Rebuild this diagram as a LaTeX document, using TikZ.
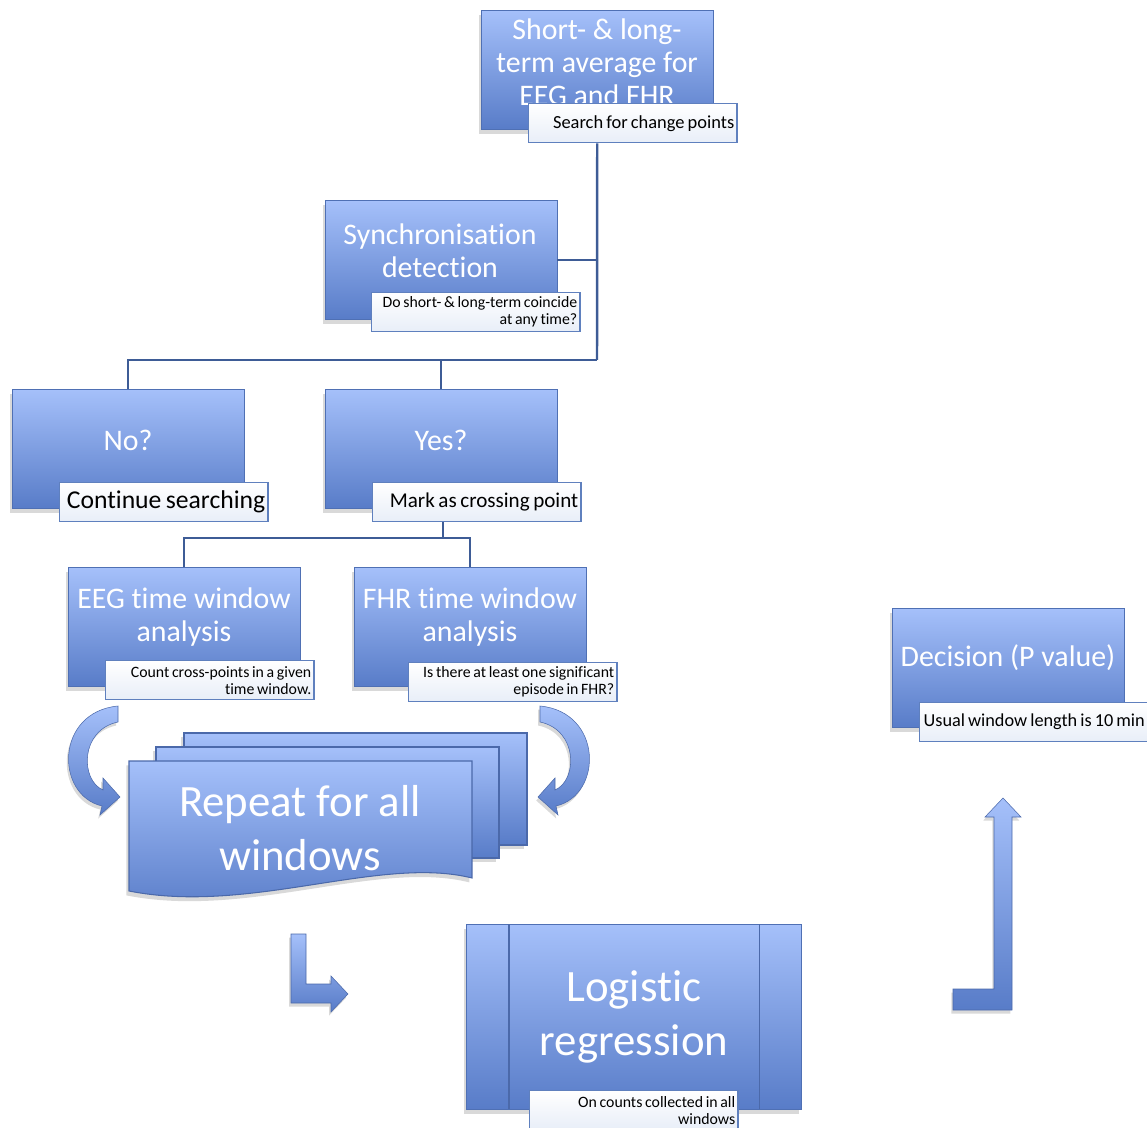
\documentclass[tikz,border=0pt]{standalone}
\usepackage{fontspec}
\setmainfont{Carlito}[Ligatures=NoCommon]
\usetikzlibrary{shadows,calc,positioning}

\definecolor{boxtop}{RGB}{165,192,250}
\definecolor{boxbot}{RGB}{88,124,200}
\definecolor{linkblue}{RGB}{62,92,150}
\definecolor{notebord}{RGB}{95,128,190}
\definecolor{notebot}{RGB}{232,238,248}

\tikzset{
  phase/.style={anchor=north west, inner sep=0pt, minimum width=4.64cm, minimum height=2.38cm,
    top color=boxtop, bottom color=boxbot, draw=boxbot!90!black, line width=0.3pt,
    drop shadow={shadow xshift=-1.5pt, shadow yshift=-2.5pt, opacity=.3}},
  phasetext/.style={text=white, align=center, font=\fontsize{17}{18.7}\selectfont},
  bigtext/.style={text=white, align=center, font=\fontsize{25.5}{30.6}\selectfont},
  note/.style={anchor=north west, draw=notebord, line width=0.8pt, top color=white, bottom color=notebot,
    inner xsep=1.5pt, inner ysep=0pt, minimum height=0.78cm, text width=4.06cm, align=flush right,
    font=\fontsize{9}{9.6}\selectfont,
    execute at begin node={\spaceskip=0.17em\relax\hyphenpenalty=10000\relax}},
  link/.style={draw=linkblue, line width=1.4pt},
  docpage/.style={top color=boxtop, bottom color=boxbot, draw=boxbot!85!black, line width=0.6pt,
    drop shadow={shadow xshift=-1.5pt, shadow yshift=-2.5pt, opacity=.3}},
  blockarrow/.style={top color=boxtop, bottom color=boxbot, draw=boxbot!85!black, line width=0.3pt,
    drop shadow={shadow xshift=-1pt, shadow yshift=-2pt, opacity=.3}}
}

\begin{document}
\begin{tikzpicture}[x=0.02cm, y=-0.02cm]
\useasboundingbox (0,0) rectangle (1147,1128);

% main boxes
\node[phase] (avg) at (481,10) {};
\node[phase] (sync) at (325,200) {};
\node[phase] (no) at (12,389) {};
\node[phase] (yes) at (325,389) {};
\node[phase] (eeg) at (68,567) {};
\node[phase] (fhr) at (354,567) {};
\node[phase] (dec) at (892,608) {};

\node[phasetext] (avgtext) at (597,62) {Short- \& long-\\term average for\\EEG and FHR};
\node[phasetext] (synctext) at (440,251) {Synchronisation\\detection};
\node[phasetext] (notext) at (128,440) {No?};
\node[phasetext] (yestext) at (441,440) {Yes?};
\node[phasetext] (eegtext) at (184,617) {EEG time window\\analysis};
\node[phasetext] (fhrtext) at (470,617) {FHR time window\\analysis};
\node[phasetext] (dectext) at (1008,658) {Decision (P value)};

% notes
\node[note, font=\fontsize{10.5}{11}\selectfont] (avgnote) at (528,103) {Search for change points};
\node[note] (syncnote) at (371,292) {Do short- \& long-term coincide\\at any time?};
\node[note, font=\fontsize{14.6}{15}\selectfont] (nonote) at (59,482) {Continue searching};
\node[note, font=\fontsize{12}{12.5}\selectfont] (yesnote) at (372,482) {Mark as crossing point};
\node[note] (eegnote) at (105,660) {Count cross-points in a given\\time window.};
\node[note] (fhrnote) at (408,662) {Is there at least one significant\\episode in FHR?};
\node[note, text width=4.45cm, font=\fontsize{10.4}{11}\selectfont] (decnote) at (919,702) {Usual window length is 10\,min};

% connectors
\coordinate (split1) at (597,360);
\draw[link] (avg.south |- avgnote.south) -- (split1);
\draw[link] (sync.east) -- (sync.east -| split1);
\draw[link] (no.north) -- (no.north |- split1) -- (split1);
\draw[link] (yes.north) -- (yes.north |- split1);

\coordinate (split2) at (443,538);
\draw[link] (yesnote.south -| split2) -- (split2);
\draw[link] (eeg.north) -- (eeg.north |- split2) -- (fhr.north |- split2) -- (fhr.north);

% repeat for all windows
\path[docpage] (184,733) rectangle (527,845);
\path[docpage] (156,747) rectangle (499,858);
\path[docpage] (129,761) -- (472,761) -- (472,878) .. controls (380,855) and (250,915) .. (129,891) -- cycle;
\node[bigtext] (repeat) at (300,828) {Repeat for all\\windows};

\path[blockarrow] (118,706) .. controls (55,712) and (55,795) .. (102,806) -- (100,815) -- (120,797)
  -- (103,778) -- (103,790) .. controls (80,780) and (80,730) .. (118,722) -- cycle;
\path[blockarrow] (540,706) .. controls (603,712) and (603,795) .. (556,806) -- (558,815) -- (538,797)
  -- (555,778) -- (555,790) .. controls (578,780) and (578,730) .. (540,722) -- cycle;

% logistic regression
\node[phase, minimum width=6.7cm, minimum height=3.7cm] (logit) at (466,924) {};
\draw[boxbot!85!black, line width=0.6pt] ($(logit.north west)+(43,0)$) -- ($(logit.south west)+(43,0)$);
\draw[boxbot!85!black, line width=0.6pt] ($(logit.north east)+(-42,0)$) -- ($(logit.south east)+(-42,0)$);
\node[bigtext] (logittext) at (634,1017) {Logistic\\regression};
\node[note] (logitnote) at (529,1090) {On counts collected in all\\windows};

% bent arrows
\path[blockarrow] (291,934) -- (306,934) -- (306,984) -- (331,984) -- (331,976) -- (348,994)
  -- (331,1012) -- (331,1003) -- (291,1003) -- cycle;
\path[blockarrow] (953,989) -- (994,989) -- (994,817) -- (985,817) -- (1003,798) -- (1021,817)
  -- (1012,817) -- (1012,1010) -- (953,1010) -- cycle;
\end{tikzpicture}
\end{document}
